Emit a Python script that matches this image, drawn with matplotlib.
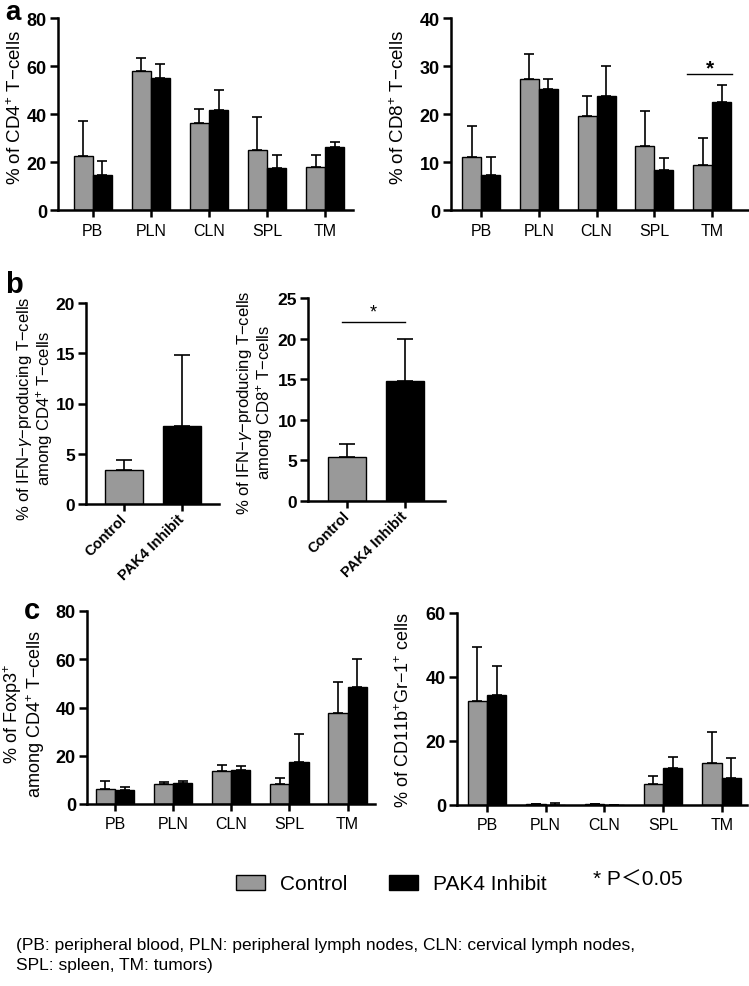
import matplotlib
matplotlib.use('Agg')
import matplotlib.pyplot as plt
import numpy as np

plt.rcParams['font.family'] = ['Liberation Sans', 'DejaVu Sans']
plt.rcParams['mathtext.fontset'] = 'custom'
plt.rcParams['mathtext.rm'] = 'Liberation Sans'
plt.rcParams['mathtext.it'] = 'Liberation Sans:italic'
plt.rcParams['mathtext.bf'] = 'Liberation Sans:bold'

# ---------------- data ----------------
sites = ['PB', 'PLN', 'CLN', 'SPL', 'TM']
groups_b = ['Control', 'PAK4 Inhibit']
series_names = ['Control', 'PAK4 Inhibit']

cd4_ctrl = [22.4, 58.1, 36.3, 25.0, 17.9]
cd4_ctrl_err = [14.7, 5.3, 5.9, 13.6, 5.0]
cd4_pak4 = [14.7, 54.9, 41.7, 17.4, 26.2]
cd4_pak4_err = [5.7, 5.8, 8.2, 5.5, 2.0]

cd8_ctrl = [11.0, 27.2, 19.5, 13.4, 9.3]
cd8_ctrl_err = [6.4, 5.2, 4.3, 7.2, 5.7]
cd8_pak4 = [7.2, 25.2, 23.8, 8.4, 22.6]
cd8_pak4_err = [3.8, 2.0, 6.3, 2.5, 3.4]

ifn_cd4 = [3.4, 7.8]
ifn_cd4_err = [1.0, 7.0]
ifn_cd8 = [5.4, 14.8]
ifn_cd8_err = [1.6, 5.1]

foxp3_ctrl = [6.3, 8.3, 13.5, 8.3, 37.6]
foxp3_ctrl_err = [3.4, 0.7, 2.7, 2.4, 13.1]
foxp3_pak4 = [5.6, 8.8, 14.2, 17.4, 48.6]
foxp3_pak4_err = [1.3, 0.8, 1.4, 11.5, 11.5]

mdsc_ctrl = [32.4, 0.3, 0.3, 6.5, 13.2]
mdsc_ctrl_err = [17.0, 0.1, 0.0, 2.6, 9.7]
mdsc_pak4 = [34.5, 0.1, 0.0, 11.6, 8.5]
mdsc_pak4_err = [8.9, 0.6, 0.0, 3.4, 6.3]

GRAY = '#999999'
W, H = 749, 987

fig = plt.figure(figsize=(W / 100, H / 100), dpi=100)


def add_axes(x0, x1, ytop, ybot):
    return fig.add_axes([x0 / W, 1 - ybot / H, (x1 - x0) / W, (ybot - ytop) / H])


def style(ax, ymax, step, xlim, xlabelsize=11.5, ylabelsize=13):
    for s in ['top', 'right']:
        ax.spines[s].set_visible(False)
    for s in ['left', 'bottom']:
        ax.spines[s].set_linewidth(1.8)
    ax.set_ylim(0, ymax)
    ax.set_yticks(np.arange(0, ymax + 0.01, step))
    ax.set_xlim(*xlim)
    ax.tick_params(axis='y', width=1.8, length=6, labelsize=ylabelsize, pad=2)
    ax.tick_params(axis='x', width=1.8, length=5, labelsize=xlabelsize, pad=4)
    for t in ax.get_yticklabels():
        t.set_fontweight('bold')


def grouped(ax, ctrl, ce, pak, pe, width=0.33, capsize=3.5):
    x = np.arange(len(sites))
    n = len(sites)
    b1 = ax.bar(x - width / 2, ctrl, width, color=GRAY, edgecolor='black',
                linewidth=1.0, zorder=2)
    b2 = ax.bar(x + width / 2, pak, width, color='black', edgecolor='black',
                linewidth=1.0, zorder=2)
    ax.errorbar(x - width / 2, ctrl, yerr=[np.zeros(n), ce], fmt='none',
                ecolor='black', elinewidth=1.2, capsize=capsize, capthick=1.2, zorder=1)
    ax.errorbar(x + width / 2, pak, yerr=[np.zeros(n), pe], fmt='none',
                ecolor='black', elinewidth=1.2, capsize=capsize, capthick=1.2, zorder=1)
    ax.set_xticks(x)
    ax.set_xticklabels(sites)
    return b1, b2


def single(ax, vals, errs, width=0.66, capsize=6):
    x = np.arange(len(groups_b))
    ax.bar(x, vals, width, color=[GRAY, 'black'], edgecolor='black',
           linewidth=1.0, zorder=2)
    ax.errorbar(x, vals, yerr=[np.zeros(len(vals)), errs], fmt='none',
                ecolor='black', elinewidth=1.2, capsize=capsize, capthick=1.2, zorder=1)
    ax.set_xticks(x)
    ax.set_xticklabels(groups_b, rotation=45, ha='right', va='center',
                       rotation_mode='anchor', fontweight='bold')


# ---------------- panel a ----------------
ax1 = add_axes(58, 353, 19, 211)
h_ctrl, h_pak = grouped(ax1, cd4_ctrl, cd4_ctrl_err, cd4_pak4, cd4_pak4_err)
style(ax1, 80, 20, (-0.6, 4.48))
ax1.set_ylabel('% of CD4$^{+}$ T\u2212cells', fontsize=13.5)
ax1.yaxis.set_label_coords(-0.112, 0.54)

ax2 = add_axes(451, 748, 19, 211)
grouped(ax2, cd8_ctrl, cd8_ctrl_err, cd8_pak4, cd8_pak4_err)
style(ax2, 40, 10, (-0.52, 4.62))
ax2.set_ylabel('% of CD8$^{+}$ T\u2212cells', fontsize=13.5)
ax2.yaxis.set_label_coords(-0.145, 0.54)
i_tm = sites.index('TM')
ax2.plot([i_tm - 0.43, i_tm + 0.35], [28.3, 28.3], color='black', lw=1.0)
ax2.text(i_tm - 0.04, 29.6, '*', ha='center', va='center', fontsize=15, fontweight='bold')

# ---------------- panel b ----------------
ax3 = add_axes(86, 219, 304, 505)
single(ax3, ifn_cd4, ifn_cd4_err)
style(ax3, 20, 5, (-0.655, 1.64), xlabelsize=10.5, ylabelsize=12.5)
ax3.set_ylabel('% of IFN\u2212$\\gamma$\u2212producing T\u2212cells\namong CD4$^{+}$ T\u2212cells',
               fontsize=12, linespacing=1.0)
ax3.yaxis.set_label_coords(-0.235, 0.48)

ax4 = add_axes(308, 445, 299, 502)
single(ax4, ifn_cd8, ifn_cd8_err)
style(ax4, 25, 5, (-0.67, 1.69), xlabelsize=10.5, ylabelsize=12.5)
ax4.set_ylabel('% of IFN\u2212$\\gamma$\u2212producing T\u2212cells\namong CD8$^{+}$ T\u2212cells',
               fontsize=12, linespacing=1.0)
ax4.yaxis.set_label_coords(-0.24, 0.49)
ax4.plot([-0.09, 1.0], [22.05, 22.05], color='black', lw=1.0)
ax4.text(0.45, 23.3, '*', ha='center', va='center', fontsize=13)

# ---------------- panel c ----------------
ax5 = add_axes(87, 375, 612, 805)
grouped(ax5, foxp3_ctrl, foxp3_ctrl_err, foxp3_pak4, foxp3_pak4_err)
style(ax5, 80, 20, (-0.48, 4.47))
ax5.set_ylabel('% of Foxp3$^{+}$\namong CD4$^{+}$ T\u2212cells', fontsize=13, linespacing=1.0)
ax5.yaxis.set_label_coords(-0.139, 0.47)

ax6 = add_axes(457, 747, 614, 806)
grouped(ax6, mdsc_ctrl, mdsc_ctrl_err, mdsc_pak4, mdsc_pak4_err)
style(ax6, 60, 20, (-0.51, 4.43))
ax6.set_ylabel('% of CD11b$^{+}$Gr\u22121$^{+}$ cells', fontsize=13)
ax6.yaxis.set_label_coords(-0.152, 0.5)

# ---------------- panel letters ----------------
fig.text(13 / W, 1 - 13 / H, 'a', fontsize=20, fontweight='bold', ha='center', va='center')
fig.text(14 / W, 1 - 285 / H, 'b', fontsize=21, fontweight='bold', ha='center', va='center')
fig.text(32 / W, 1 - 611 / H, 'c', fontsize=21, fontweight='bold', ha='center', va='center')

# ---------------- legend ----------------
fig.legend([h_ctrl, h_pak], series_names, loc='center left',
           bbox_to_anchor=(236 / W, 1 - 885 / H), ncol=2, frameon=False,
           fontsize=15, handlelength=1.4, handleheight=0.75, handletextpad=0.72,
           columnspacing=2.0, borderpad=0, borderaxespad=0)
fig.text(593 / W, 1 - 880 / H, '* P\uff1c0.05', fontsize=15, ha='left', va='center',
         family=['Liberation Sans', 'Noto Sans CJK JP'])

# ---------------- footnote ----------------
fig.text(16 / W, 1 - 946 / H,
         '(PB: peripheral blood, PLN: peripheral lymph nodes, CLN: cervical lymph nodes,',
         fontsize=12.5, ha='left', va='center')
fig.text(16 / W, 1 - 966 / H, 'SPL: spleen, TM: tumors)', fontsize=12.5, ha='left', va='center')

fig.savefig('out.png', dpi=100)
